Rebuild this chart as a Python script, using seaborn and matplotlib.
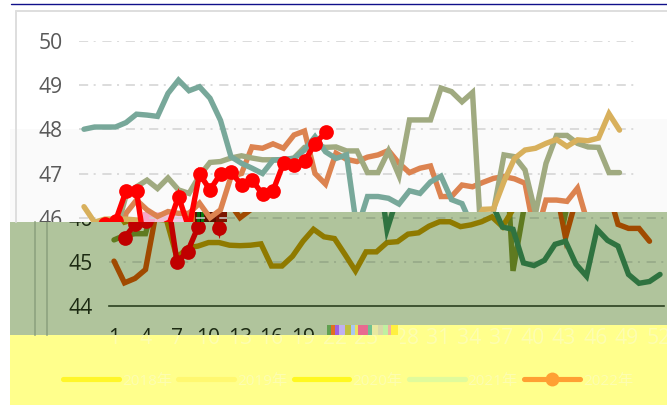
import numpy as np
import pandas as pd
import matplotlib
matplotlib.use("Agg")
import matplotlib.pyplot as plt
from matplotlib.path import Path
from matplotlib.patches import Rectangle
from matplotlib.transforms import Bbox, TransformedBbox
import seaborn as sns

N = None
weeks = list(range(1, 54))
year_labels = ["2018年", "2019年", "2020年", "2021年", "2022年"]
x_ticks = list(range(1, 53, 3))
y_ticks = [44, 45, 46, 47, 48, 49, 50]

y2018 = [45.02, 44.53, 44.63, 44.83, 46.1, 46.4, 46.18, 46.03, 46.14, 46.1, 46.1, 46.33, 46.0, 46.18, 46.93, 47.0, 47.6, 47.57,
         47.67, 47.57, 47.87, 47.96, 47.0, 46.76, 47.46, 47.32, 47.27, 47.37, 47.42, 47.52, 47.23, 47.02, 47.12, 47.17, 46.48, 46.48,
         46.74, 46.7, 46.8, 46.89, 46.93, 46.88, 46.78, 45.55, 46.4, 46.4, 46.37, 46.67, 45.85, 45.76, 45.76, 45.47, N]
y2019 = [45.5, 45.6, 45.64, 45.64, 46.5, 46.7, 46.85, 46.66, 46.9, 46.63, 46.55, 46.95, 47.25, 47.27, 47.35, 47.4, 47.35, 47.31,
         47.31, 47.31, 47.35, 47.59, 47.63, 47.59, 47.6, 47.51, 47.51, 47.02, 47.02, 47.51, 46.95, 48.21, 48.21, 48.21, 48.93, 48.85,
         48.62, 48.83, 44.8, 46.15, 47.42, 47.38, 47.08, 46.1, 47.23, 47.86, 47.86, 47.68, 47.6, 47.59, 47.02, 47.02, N]
y2020 = [46.25, 45.9, 45.97, 45.97, 45.97, 45.95, 45.1, 45.32, 45.36, 45.44, 45.44, 45.38, 45.37, 45.38, 45.41, 44.91, 44.91, 45.13,
         45.47, 45.74, 45.57, 45.53, 45.17, 44.8, 45.23, 45.23, 45.44, 45.46, 45.63, 45.66, 45.81, 45.91, 45.91, 45.8, 45.84, 45.91,
         46.02, 45.8, 46.19, 46.2, 46.82, 47.34, 47.53, 47.57, 47.68, 47.77, 47.61, 47.76, 47.74, 47.8, 48.35, 47.98, N]
y2021 = [48.0, 48.05, 48.05, 48.05, 48.15, 48.34, 48.32, 48.29, 48.81, 49.11, 48.87, 48.96, 48.7, 48.2, 47.38, 47.23, 47.12, 47.0,
         47.3, 47.32, 47.34, 47.53, 47.83, 47.49, 47.34, 47.42, 45.73, 46.48, 46.48, 46.44, 46.31, 46.61, 46.55, 46.81, 46.94, 46.41,
         46.32, 45.79, 45.74, 44.98, 44.92, 45.04, 45.4, 45.47, 44.95, 44.68, 45.74, 45.49, 45.36, 44.72, 44.52, 44.56, 44.72]
y2022 = [N, 45.55, 45.85, 45.93, 46.6, 46.6, 45.0, 45.23, 45.79, 46.48, 45.76, 46.99, 46.63, 46.99, 47.04, 46.74, 46.86, 46.53,
         46.61, 47.23, 47.19, 47.28, 47.67, 47.93] + [N] * 29

df = pd.DataFrame({"week": weeks, "y2018": y2018, "y2019": y2019, "y2020": y2020, "y2021": y2021, "y2022": y2022})
columns = ["y2018", "y2019", "y2020", "y2021", "y2022"]

top_colors = ["#dc8350", "#a0aa80", "#d8b05c", "#78a89a", "#ff0000"]
green_colors = ["#a04a00", "#5f7a20", "#8f7a00", "#2f7340", "#c00000"]
legend_colors = ["#fff62a", "#fff870", "#fff820", "#e0fb9c", "#ff9f33"]

sns.set_style("white")
plt.rcParams["font.family"] = ["Open Sans", "Noto Sans CJK SC", "DejaVu Sans"]

W, H = 667, 405
fig = plt.figure(figsize=(W / 100, H / 100), dpi=100, facecolor="white")
bg = fig.add_axes([0, 0, 1, 1], zorder=0)
bg.set_xlim(0, W)
bg.set_ylim(H, 0)
bg.axis("off")


def rect(x0, y0, x1, y1, color):
    bg.add_patch(Rectangle((x0, y0), x1 - x0, y1 - y0, facecolor=color, edgecolor="none"))


GREEN = "#b0c49c"
YELLOW = "#ffff8c"
rect(10, 129, 130, 222, "#fafafa")
rect(130, 119, W, 222, "#fafafa")
bg.plot([16, 16], [11, 222], color="#dedede", lw=1.4)
bg.plot([16, W], [11, 11], color="#dedede", lw=1.4)
bg.plot([11, W], [3.5, 3.5], color="#10108a", lw=1.0)
rect(10, 222, W, 336, GREEN)
rect(227, 212, W, 222, GREEN)
rect(10, 335, W, H, YELLOW)
rect(327, 325, W, 335, YELLOW)
bg.plot([35, 35], [222, 335], color="#93a884", lw=1.4)
bg.plot([47, 47], [222, 335], color="#93a884", lw=1.4)
# corrupted strips of the reference image
for x0, x1, c in [(143, 155, "#f7a9c9"), (155, 170, "#f4c0d8"), (170, 185, "#f4c8e6"), (185, 195, "#d0701a"), (195, 197, "#601000"),
                  (197, 200, "#0a6a10"), (200, 201, "#101010"), (201, 204, "#0a7a10"), (204, 216, "#5a0f00"), (216, 227, "#7a1500")]:
    rect(x0, 212, x1, 222, c)
for x0, x1, c in [(327, 331, "#60a050"), (331, 335, "#e07020"), (335, 339, "#a060e0"), (339, 345, "#c0b0f0"), (345, 351, "#c0c040"),
                  (351, 355, "#a8c8f0"), (355, 358, "#e8e060"), (358, 368, "#e86a90"), (368, 372, "#70c090"), (372, 378, "#e8e8a0"),
                  (378, 383, "#d8d8a8"), (383, 388, "#c0f0a0"), (388, 391, "#f0b0a0"), (391, 398, "#fff040")]:
    rect(x0, 325, x1, 335, c)

top_clip = Path([(0, 0), (W, 0), (W, 212), (227, 212), (227, 222), (0, 222), (0, 0)])
green_clip = Path([(10, 222), (227, 222), (227, 212), (W, 212), (W, 325), (327, 325), (327, 335), (10, 335), (10, 222)])


def pixel_box(x0, y0, x1, y1):
    return TransformedBbox(Bbox.from_extents(x0 / W, 1 - y1 / H, x1 / W, 1 - y0 / H), fig.transFigure)


def base_axes(dx):
    left, right, ytop, ybot = 79 + dx, 634 + dx, 40.7, 306.3
    ax = fig.add_axes([left / W, 1 - ybot / H, (right - left) / W, (ybot - ytop) / H], zorder=2)
    ax.patch.set_alpha(0)
    ax.set_xlim(1 - 5 / 10.5, 53 + 4 / 10.5)
    ax.set_ylim(44, 50)
    for s in ax.spines.values():
        s.set_visible(False)
    ax.grid(False)
    return ax


def panel(dx, clip, colors, tick_color, grid_color, ybox, xbox, xticks, spine=None):
    ax = base_axes(dx)
    for col, c in zip(columns, colors):
        kw = dict(marker="o", markersize=10.6, markeredgewidth=0) if col == "y2022" else {}
        sns.lineplot(data=df, x="week", y=col, color=c, lw=3.9, ax=ax, errorbar=None, legend=False,
                     solid_capstyle="round", solid_joinstyle="miter", **kw)
    ax.set_xlim(1 - 5 / 10.5, 53 + 4 / 10.5)
    ax.set_ylim(44, 50)
    ax.set_xlabel("")
    ax.set_ylabel("")
    ax.set_yticks(y_ticks)
    ax.set_yticklabels([str(v) for v in y_ticks])
    ax.set_xticks(xticks)
    ax.set_xticklabels([str(v) for v in xticks])
    ax.tick_params(axis="y", length=0, pad=11.5, labelsize=15.2, labelcolor=tick_color)
    ax.tick_params(axis="x", length=0, pad=15.5, labelsize=15.2, labelcolor=tick_color)
    for t in y_ticks[1:]:
        g = ax.axhline(t, color=grid_color, lw=1.1, linestyle=(0, (6, 3.6, 1.3, 4.4)), zorder=1)
        g.set_clip_path(clip, bg.transData)
    if spine:
        ax.spines["bottom"].set_visible(True)
        ax.spines["bottom"].set_color(spine)
        ax.spines["bottom"].set_linewidth(1.2)
    for line in ax.lines:
        line.set_clip_path(clip, bg.transData)
    for lab in ax.get_yticklabels():
        lab.set_clip_on(True)
        lab.set_clip_box(pixel_box(*ybox))
    for lab in ax.get_xticklabels():
        lab.set_clip_on(True)
        lab.set_clip_box(pixel_box(*xbox))
    return ax


def pale_ticks(dx, ticks, box):
    ax = base_axes(dx)
    ax.set_yticks([])
    ax.set_xticks(ticks)
    ax.set_xticklabels([str(v) for v in ticks])
    ax.tick_params(axis="x", length=0, pad=15.5, labelsize=15.2, labelcolor="#fdfdb0")
    for lab in ax.get_xticklabels():
        lab.set_clip_on(True)
        lab.set_clip_box(pixel_box(*box))


# upper part of the picture, as drawn
panel(0, top_clip, top_colors, "#595959", "#d2d2d2", (0, 0, W, 222), (0, 0, W, 222), [])
# band displaced to the right by 30 px
panel(30, green_clip, green_colors, "#1c2a12", "#94a686", (10, 222, W, 335), (10, 222, 327, 335),
      [t for t in x_ticks if t <= 19], spine="#2b4020")
# washed yellow band with the tick labels
pale_ticks(30, [t for t in x_ticks if t <= 25], (10, 335, 400, H))
pale_ticks(39, [t for t in x_ticks if t >= 28], (400, 325, W, H))

handles = [plt.Line2D([], [], color=c, lw=3.7, solid_capstyle="round",
                      marker="o" if lab == "2022年" else None, markersize=10, markeredgewidth=0)
           for c, lab in zip(legend_colors, year_labels)]
leg = fig.legend(handles, year_labels, ncol=5, frameon=False, loc="center left",
                 bbox_to_anchor=(63 / W, 1 - 381 / H), borderaxespad=0, borderpad=0,
                 fontsize=11, handlelength=3.65, handletextpad=0.2, columnspacing=0.42)
for t in leg.get_texts():
    t.set_color("#fdfdb0")

fig.savefig("out.png", dpi=100, facecolor="white")
